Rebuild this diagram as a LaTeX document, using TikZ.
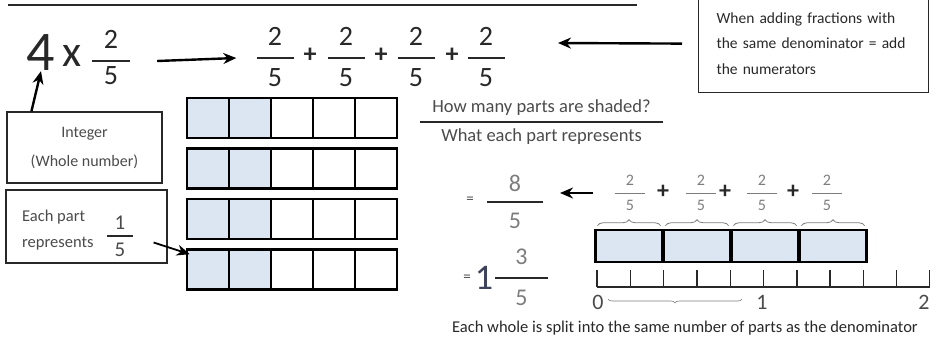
\documentclass[tikz,border=0pt]{standalone}
\usepackage{fontspec}
\setmainfont{Carlito}
\usetikzlibrary{arrows.meta,positioning,decorations.pathreplacing}
\definecolor{ink}{RGB}{40,40,40}
\definecolor{pen}{RGB}{75,75,75}
\definecolor{faint}{RGB}{125,125,125}
\definecolor{shade}{RGB}{220,230,242}
\definecolor{slate}{RGB}{60,66,90}
\tikzset{
  lbl/.style={text=pen,inner sep=1pt,font=\fontsize{15}{18}\selectfont},
  digit/.style={text=ink,inner sep=0pt,font=\fontsize{28}{30}\selectfont},
  smalldigit/.style={text=faint,inner sep=0pt,font=\fontsize{16}{18}\selectfont},
  barn/.style={fill=ink,inner sep=0pt,minimum height=1.5pt},
  cell/.style={draw=black,line width=2.6pt,minimum width=42pt,minimum height=40pt,inner sep=0pt},
  part/.style={draw=black,line width=2.6pt,minimum width=66.5pt,minimum height=32pt,inner sep=0pt,fill=shade},
  note/.style={draw=ink,line width=1.2pt,inner sep=0pt},
  arr/.style={-{Stealth[length=13pt,width=11pt]},line width=2.4pt},
  brc/.style={draw=faint,line width=0.8pt,decorate,decoration={brace,amplitude=6pt}},
}
\begin{document}
\begin{tikzpicture}[x=1pt,y=-1pt]
  \useasboundingbox (0,0) rectangle (930,341);
  % title rule
  \draw[ink,line width=1.8pt] (8,5) -- (637,5);
  % 4 x 2/5
  \node[digit,font=\fontsize{56}{58}\selectfont] (four) at (41,53) {4};
  \node[digit,font=\fontsize{44}{46}\selectfont] (times) at (72,56) {x};
  \node[barn,minimum width=38pt] (lf) at (111,61) {};
  \node[digit,above=11pt of lf] (lfn) {2};
  \node[digit,below=4pt of lf] (lfd) {5};
  % repeated addition
  \foreach \n/\cx in {1/275,2/346,3/416,4/486}{
    \node[barn,minimum width=37pt] (s\n) at (\cx,58) {};
    \node[digit,above=11pt of s\n] (sn\n) {2};
    \node[digit,below=9pt of s\n] (sd\n) {5};
  }
  \foreach \px in {310,381,452}
    \node[digit,font=\bfseries\fontsize{26}{28}\selectfont] (p\px) at (\px,55) {+};
  \draw[arr] ([xshift=27pt]lf.east) -- ([xshift=-20pt]s1.west);
  % rule box
  \node[note,lbl,text=ink,text width=194pt,minimum height=98pt,inner xsep=18pt,align=left,
    anchor=north west,font=\fontsize{15.5}{25.5}\selectfont] (rule) at (698,-6)
    {When adding fractions with\\the same denominator = add\\the numerators};
  \coordinate (ruletip) at (558,43);
  \draw[arr] ([xshift=-16pt]rule.west) -- (ruletip);
  % labels on the left
  \node[note,lbl,minimum width=155pt,minimum height=71pt,align=center,
    font=\fontsize{16}{29}\selectfont] (intbox) at (84.5,147.5) {Integer\\(Whole number)};
  \draw[arr] ([xshift=25pt]intbox.north west) -- (four.south);
  \node[note,minimum width=161pt,minimum height=73pt] (eachbox) at (86.5,226.5) {};
  \node[lbl,align=left,anchor=west,font=\fontsize{16.5}{26}\selectfont] (eachtxt) at (21,230)
    {Each part\\represents};
  \node[barn,minimum width=26pt,minimum height=1.2pt] (ef) at (120,236) {};
  \node[digit,text=pen,font=\fontsize{21}{22}\selectfont,above=6pt of ef] (efn) {1};
  \node[digit,text=pen,font=\fontsize{21}{22}\selectfont,below=6pt of ef] (efd) {5};
  % bar models
  \foreach \r in {0,...,3}
    \foreach \c/\f in {0/shade,1/shade,2/white,3/white,4/white}
      \node[cell,fill=\f] (c\r\c) at (208+42*\c,118+50.5*\r) {};
  \draw[arr,line width=1.8pt] ([xshift=-14pt,yshift=-16pt]eachbox.east) -- ([shift={(4pt,-6pt)}]c30.north west);
  % shaded over part
  \node[barn,minimum width=243pt,minimum height=1.6pt] (qbar) at (541.5,122) {};
  \node[lbl,font=\fontsize{18.5}{20}\selectfont,above=4pt of qbar] (qtop) {How many parts are shaded?};
  \node[lbl,font=\fontsize{18.5}{20}\selectfont,below=4pt of qbar] (qbot) {What each part represents};
  % results
  \node[lbl] (eqa) at (470,200) {=};
  \node[barn,minimum width=56pt] (eb) at (515,202) {};
  \node[digit,text=faint,font=\fontsize{24}{26}\selectfont,above=9pt of eb] (ebn) {8};
  \node[digit,text=faint,font=\fontsize{24}{26}\selectfont,below=10pt of eb] (ebd) {5};
  \node[lbl] (eqb) at (467,278) {=};
  \node[digit,text=slate,font=\fontsize{36}{38}\selectfont] (whole) at (484,278) {1};
  \node[barn,minimum width=53pt] (mb) at (521.5,278) {};
  \node[digit,text=faint,font=\fontsize{24}{26}\selectfont,above=12pt of mb] (mbn) {3};
  \node[digit,text=faint,font=\fontsize{24}{26}\selectfont,below=11pt of mb] (mbd) {5};
  % small sum over the strip
  \foreach \n/\cx in {1/630,2/701,3/762,4/827}{
    \node[barn,fill=faint,minimum width=30pt,minimum height=1pt] (sb\n) at (\cx,193) {};
    \node[smalldigit,above=7pt of sb\n] (sbn\n) {2};
    \node[smalldigit,below=6pt of sb\n] (sbd\n) {5};
  }
  \foreach \px in {663,725,793}
    \node[digit,font=\bfseries\fontsize{24}{26}\selectfont] (q\px) at (\px,192) {+};
  \coordinate (eighttip) at (560,193);
  \draw[arr] ([xshift=-22pt]sb1.west) -- (eighttip);
  % strip of fifths
  \foreach \n in {0,...,3}{
    \node[part] (b\n) at (629+68*\n,246) {};
    \draw[brc] ([xshift=3pt,yshift=3pt]b\n.north west) -- ([xshift=-3pt,yshift=3pt]b\n.north east);
  }
  % number line
  \draw[ink,line width=1.4pt] (597,287) -- (935,287);
  \foreach \k in {0,...,10}
    \draw[ink,line width=1.4pt] (597+33.3*\k,270) -- ++(0,17);
  \node[lbl,font=\fontsize{22}{24}\selectfont] (zero) at (598,302) {0};
  \node[lbl,font=\fontsize{22}{24}\selectfont] (onept) at (762,302) {1};
  \node[lbl,font=\fontsize{22}{24}\selectfont] (twopt) at (924,302) {2};
  \draw[brc,line width=0.6pt,decoration={brace,mirror,amplitude=4pt}] (608,299) -- (742,299);
  \node[lbl,text=ink,font=\fontsize{16.5}{18}\selectfont] (caption) at (685,328)
    {Each whole is split into the same number of parts as the denominator};
\end{tikzpicture}
\end{document}
